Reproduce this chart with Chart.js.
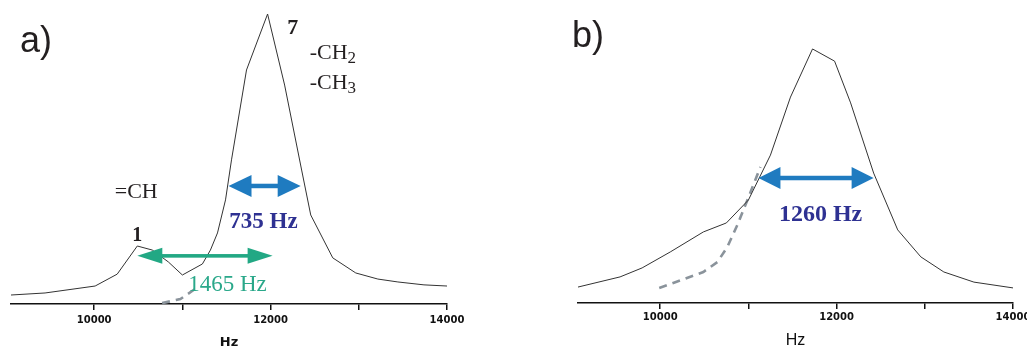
<!DOCTYPE html>
<html><head><meta charset="utf-8">
<script src="https://cdn.jsdelivr.net/npm/chart.js@4/dist/chart.umd.min.js"></script>
<style>
html,body{margin:0;padding:0;width:1027px;height:346px;overflow:hidden;background:#fff;}
canvas{position:absolute;top:0;}
#ca{left:0;} #cb{left:560px;}
</style></head><body>
<canvas id="ca" width="500" height="350"></canvas>
<canvas id="cb" width="500" height="350"></canvas>
<script>
// ---- data ----
const tickValues = [10000, 11000, 12000, 13000, 14000];
const tickLabels = ['10000', '', '12000', '', '14000'];

const aHz = [9057, 9443, 10011, 10261, 10489, 10659, 10841, 11000, 11227, 11318, 11398, 11489, 11557, 11727, 11966, 12159, 12352, 12455, 12705, 12966, 13216, 13443, 13739, 14000];
const aIntensity = [3.1, 3.8, 6.2, 10.3, 20.0, 18.6, 14.5, 10.0, 13.8, 18.6, 24.5, 35.9, 49.7, 80.7, 100, 75.5, 46.2, 30.7, 15.9, 10.7, 8.6, 7.6, 6.6, 6.2];
const aDashHz = [10770, 10977, 11193];
const aDashIntensity = [0.3, 1.7, 6.2];

const bHz = [9068, 9545, 9795, 10114, 10489, 10750, 11000, 11250, 11477, 11727, 11977, 12159, 12420, 12693, 12955, 13216, 13557, 14000];
const bIntensity = [5.5, 9.0, 12.1, 17.6, 24.5, 27.6, 35.5, 51.0, 71.0, 87.6, 83.4, 69.0, 44.8, 25.2, 15.9, 10.7, 7.2, 5.2];
const bDashHz = [9989, 10148, 10489, 10648, 10761, 10875, 10989, 11136];
const bDashIntensity = [5.2, 6.9, 10.7, 14.1, 19.3, 26.9, 35.5, 46.9];

// ---- helpers ----
const pts = (xs, ys) => xs.map((x, i) => ({x: x, y: ys[i]}));

function drawArrow(ctx, x1, x2, y, head, half, shaft, color) {
  ctx.fillStyle = color;
  ctx.fillRect(x1 + head - 1, y - shaft / 2, (x2 - x1) - 2 * head + 2, shaft);
  ctx.beginPath();
  ctx.moveTo(x1, y); ctx.lineTo(x1 + head, y - half); ctx.lineTo(x1 + head, y + half); ctx.closePath();
  ctx.fill();
  ctx.beginPath();
  ctx.moveTo(x2, y); ctx.lineTo(x2 - head, y - half); ctx.lineTo(x2 - head, y + half); ctx.closePath();
  ctx.fill();
}

function text(ctx, s, x, y, font, color, align) {
  ctx.font = font; ctx.fillStyle = color;
  ctx.textAlign = align || 'center'; ctx.textBaseline = 'middle';
  ctx.fillText(s, x, y);
}

function chemText(ctx, main, sub, x, baseY) {
  ctx.fillStyle = '#231f20';
  ctx.textAlign = 'left'; ctx.textBaseline = 'alphabetic';
  ctx.font = '22px "Liberation Serif"';
  ctx.fillText(main, x, baseY);
  const w = ctx.measureText(main).width;
  ctx.font = '17px "Liberation Serif"';
  ctx.fillText(sub, x + w, baseY + 4);
}

function makeChart(id, hz, inten, dHz, dI, xmin, padL, padR, padTop, axisH, labelPad, titleFont, drawAnnots) {
  return new Chart(document.getElementById(id), {
    type: 'line',
    data: {
      datasets: [
        {data: pts(hz, inten), borderColor: '#333333', borderWidth: 1, pointRadius: 0, tension: 0, clip: false, fill: false},
        {data: pts(dHz, dI), borderColor: '#8a939b', borderWidth: 2.6, borderDash: [8, 6], pointRadius: 0, tension: 0, clip: false, fill: false}
      ]
    },
    options: {
      responsive: false, animation: false, devicePixelRatio: 1,
      layout: {padding: {left: padL, right: padR, top: padTop, bottom: 0}},
      plugins: {legend: {display: false}, tooltip: {enabled: false}},
      scales: {
        y: {display: false, min: 0, max: 100},
        x: {
          type: 'linear', min: xmin, max: 14000,
          afterBuildTicks: s => { s.ticks = tickValues.map(v => ({value: v})); },
          afterFit: s => { s.height = axisH; },
          ticks: {
            autoSkip: false, maxRotation: 0, padding: labelPad, color: '#111',
            font: {family: 'DejaVu Sans', weight: 'bold', size: 10},
            callback: v => { const i = tickValues.indexOf(v); return i >= 0 ? tickLabels[i] : ''; }
          },
          grid: {display: true, drawOnChartArea: false, drawTicks: true, tickLength: 6, color: '#111', lineWidth: 1.5},
          border: {display: true, color: '#111', width: 1.5},
          title: {display: true, text: 'Hz', color: '#111', font: titleFont, padding: {top: 0, bottom: 0}}
        }
      }
    },
    plugins: [{
      id: 'annot' + id,
      afterDatasetsDraw(chart) {
        const ctx = chart.ctx;
        const X = v => chart.scales.x.getPixelForValue(v);
        const Y = v => chart.scales.y.getPixelForValue(v);
        ctx.save();
        drawAnnots(ctx, X, Y);
        ctx.restore();
      }
    }]
  });
}

// ---- panel a ----
makeChart('ca', aHz, aIntensity, aDashHz, aDashIntensity, 9057, 11, 53, 14, 46, 4,
  {family: 'DejaVu Sans', weight: 'bold', size: 13},
  (ctx, X, Y) => {
    text(ctx, 'a)', 36, 42, '36px "Liberation Sans"', '#231f20');
    drawArrow(ctx, X(10489), X(12023), Y(16.6), 25, 8, 3.6, '#22a884');
    drawArrow(ctx, X(11523), X(12341), Y(40.7), 23, 11, 4.5, '#1f7bc0');
    text(ctx, '735 Hz', X(11920), Y(28.3), 'bold 23px "Liberation Serif"', '#2e3192');
    text(ctx, '1465 Hz', X(11511), Y(6.6), '23px "Liberation Serif"', '#2aa88a');
    text(ctx, '7', X(12250), Y(95.2), 'bold 22px "Liberation Serif"', '#231f20');
    text(ctx, '1', X(10489), Y(23.4), 'bold 20px "Liberation Serif"', '#231f20');
    text(ctx, '=CH', X(10477), Y(38.6), '22px "Liberation Serif"', '#231f20');
    chemText(ctx, '-CH', '2', X(12443), Y(84.5));
    chemText(ctx, '-CH', '3', X(12443), Y(74.1));
  });

// ---- panel b ----
makeChart('cb', bHz, bIntensity, bDashHz, bDashIntensity, 9068, 18, 47, 13, 47, 2,
  {family: 'Liberation Sans', weight: 'normal', size: 16},
  (ctx, X, Y) => {
    text(ctx, 'b)', 28, 37, '36px "Liberation Sans"', '#231f20');
    drawArrow(ctx, X(11114), X(12420), Y(43.1), 22, 11, 4.5, '#1f7bc0');
    text(ctx, '1260 Hz', X(11818), Y(30.3), 'bold 24px "Liberation Serif"', '#2e3192');
  });
</script>
</body></html>
